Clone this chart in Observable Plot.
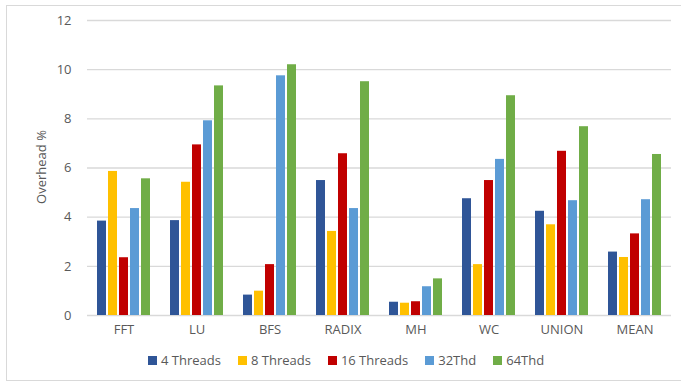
<!DOCTYPE html>
<html>
<head>
<meta charset="utf-8">
<script src="https://cdn.jsdelivr.net/npm/d3@7"></script>
<script src="https://cdn.jsdelivr.net/npm/@observablehq/plot@0.6"></script>
<style>
  html, body { margin: 0; padding: 0; background: #fff; }
  body { width: 681px; height: 383px; overflow: hidden; position: relative; font-family: "Open Sans", "Noto Sans", sans-serif; }
  #frame { position: absolute; left: 6px; top: 5px; width: 720px; height: 376px; border: 1px solid #d9d9d9; box-sizing: border-box; }
  #chart { position: absolute; left: 0; top: 0; }
  #ylabel { position: absolute; left: 41px; top: 167px; transform: translate(-50%, -50%) rotate(-90deg); white-space: nowrap; font-size: 13px; color: #595959; }
  #legend { position: absolute; left: 148px; top: 351px; display: flex; align-items: center; font-size: 13px; color: #595959; }
  .item { display: flex; align-items: center; margin-right: 17px; }
  .swatch { width: 9px; height: 9px; margin-right: 4px; }
</style>
</head>
<body>
<div id="frame"></div>
<div id="chart"></div>
<div id="ylabel">Overhead %</div>
<div id="legend"></div>
<script>
// Benchmarks on the horizontal axis
const categories = ["FFT", "LU", "BFS", "RADIX", "MH", "WC", "UNION", "MEAN"];
// Thread configurations (legend order)
const series = ["4 Threads", "8 Threads", "16 Threads", "32Thd", "64Thd"];
const colors = ["#2F5597", "#FFC000", "#C00000", "#5B9BD5", "#70AD47"];

// Overhead (%) per benchmark, one array per thread configuration
const threads4  = [3.84, 3.86, 0.83, 5.49, 0.54, 4.75, 4.24, 2.58];
const threads8  = [5.86, 5.42, 0.99, 3.42, 0.50, 2.07, 3.69, 2.36];
const threads16 = [2.35, 6.94, 2.07, 6.58, 0.56, 5.49, 6.68, 3.32];
const thd32     = [4.35, 7.92, 9.75, 4.35, 1.17, 6.35, 4.67, 4.71];
const thd64     = [5.56, 9.34, 10.20, 9.51, 1.49, 8.94, 7.68, 6.55];

const yTicks = [0, 2, 4, 6, 8, 10, 12];

const valuesBySeries = [threads4, threads8, threads16, thd32, thd64];
const rows = [];
series.forEach((s, i) => {
  categories.forEach((c, j) => rows.push({category: c, series: s, value: valuesBySeries[i][j]}));
});

const chart = Plot.plot({
  width: 681,
  height: 345,
  marginLeft: 86,
  marginRight: 10,
  marginTop: 20,
  marginBottom: 30,
  style: {fontFamily: "'Open Sans', 'Noto Sans', sans-serif", fontSize: "13px", color: "#595959", background: "transparent"},
  fx: {domain: categories, padding: 0},
  x: {domain: series, paddingInner: 0.2, paddingOuter: 0.91, axis: null},
  y: {domain: [0, 12]},
  color: {domain: series, range: colors},
  marks: [
    Plot.gridY(yTicks, {stroke: "#d9d9d9", strokeOpacity: 1, strokeWidth: 1.3}),
    Plot.barY(rows, {fx: "category", x: "series", y: "value", fill: "series"}),
    Plot.axisY(yTicks, {tickSize: 0, tickPadding: 16, fontSize: 13, fill: "#595959", label: null}),
    Plot.axisFx({anchor: "bottom", tickSize: 0, tickPadding: 9, fontSize: 13, fill: "#595959", label: null})
  ]
});
document.getElementById("chart").appendChild(chart);

// Legend below the plot
const legend = document.getElementById("legend");
series.forEach((s, i) => {
  const item = document.createElement("div");
  item.className = "item";
  const sw = document.createElement("span");
  sw.className = "swatch";
  sw.style.background = colors[i];
  const label = document.createElement("span");
  label.textContent = s;
  item.appendChild(sw);
  item.appendChild(label);
  legend.appendChild(item);
});
</script>
</body>
</html>
